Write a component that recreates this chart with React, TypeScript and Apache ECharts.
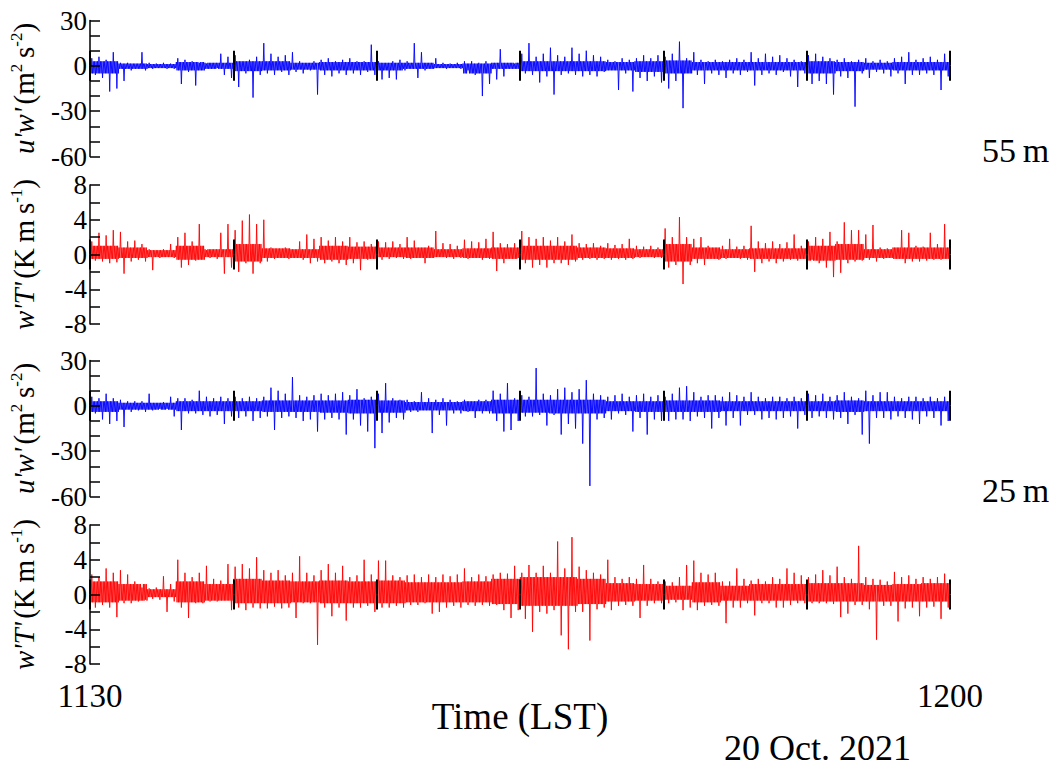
import React, { useEffect, useRef } from "react";
import * as echarts from "echarts";

// ---- data ----
// time axis: 11:30 → 12:00 (minutes from 11:30)
const TIME_LABEL_START = "1130";
const TIME_LABEL_END = "1200";
const TIME_SPAN_MIN = 30;
const TIME_STEP = 5;
const BIN_MIN = 0.25; // spike arrays: max / min per 15 s bin
const DATE_LABEL = "20 Oct. 2021";
const HEIGHT_LABELS = ["55\u2009m", "25\u2009m"];

// u'w' at 55 m — bin maxima / minima
const uw55Hi = [5, 6, 4, 9, 2, 2, 1.5, 9, 2, 1.5, 2, 1.5, 5, 4, 3, 2, 1.5, 2, 8, 6, 7, 3, 4, 6, 15, 8, 6, 7, 9, 3, 2, 3, 4, 5, 3, 4, 5, 3, 3, 14, 3, 2, 3, 4, 3, 15, 9, 2, 5, 2, 1.5, 2, 3, 3, 2, 3, 2, 11, 2, 1.5, 8, 15, 6, 8, 12, 7, 6, 12, 8, 10, 7, 6, 4, 3, 5, 4, 5, 7, 5, 7, 6, 8, 16, 5, 9, 4, 3, 4, 3, 4, 5, 4, 9, 5, 8, 6, 7, 5, 4, 3, 7, 8, 6, 5, 4, 5, 3, 4, 5, 3, 4, 3, 5, 6, 9, 4, 5, 6, 4, 8];
const uw55Lo = [-6, -8, -17, -15, -10, -3, -2, -3, -2, -1.5, -2, -2, -12, -4, -13, -3, -2, -1.5, -6, -8, -14, -5, -21, -6, -5, -6, -4, -6, -4, -5, -3, -19, -6, -7, -5, -6, -5, -6, -4, -6, -9, -8, -9, -2, -2, -8, -3, -2, -1.5, -2, -1.5, -2, -3, -6, -20, -12, -9, -7, -2, -2, -5, -6, -11, -7, -19, -6, -5, -6, -7, -6, -7, -4, -3, -16, -5, -17, -8, -10, -7, -11, -15, -10, -28, -5, -6, -12, -5, -6, -8, -5, -6, -4, -13, -6, -5, -6, -4, -7, -14, -5, -12, -10, -12, -19, -7, -8, -27, -5, -8, -4, -5, -7, -5, -12, -6, -6, -5, -6, -16, -7];
// u'w' at 55 m — dense core band, per minute
const uw55BandHi = [3, 1.5, 1.2, 2.5, 2, 3, 3, 2, 2.5, 2.5, 2, 2, 1.2, 1.5, 2, 3, 3, 3, 2.5, 3, 3.5, 2.5, 2.5, 2.5, 2.5, 3, 2.5, 2, 2.5, 2.5];
const uw55BandLo = [-5, -2, -1.5, -3, -2, -3.5, -3, -2.5, -3, -3, -3, -2, -1.5, -5, -2, -3.5, -3.5, -3.5, -3, -4, -5, -3, -3, -3, -3, -5, -3.5, -2.5, -3, -3];

// w'T' at 55 m
const wT55Hi = [1.5, 2.5, 2.2, 2.8, 2.6, 1.5, 1.6, 1.2, 0.6, 0.5, 0.6, 1.2, 2.0, 2.5, 1.5, 3.5, 0.5, 0.6, 2.5, 3.5, 2.8, 3.9, 4.6, 3.5, 4.0, 0.8, 0.7, 0.8, 0.6, 1.5, 2.3, 1.8, 2.0, 1.6, 2.0, 1.5, 2.0, 1.4, 1.5, 1.2, 1.5, 1.4, 1.5, 1.2, 2.0, 1.6, 0.8, 1.0, 2.7, 1.3, 1.2, 1.0, 1.7, 1.5, 1.4, 1.8, 2.6, 1.3, 1.2, 1.3, 2.7, 2.0, 1.8, 2.0, 1.6, 2.0, 1.5, 2.3, 1.3, 1.2, 1.3, 1.0, 1.3, 1.1, 1.2, 1.8, 1.0, 0.9, 1.0, 0.8, 3.0, 2.0, 4.3, 2.0, 1.8, 2.0, 1.0, 0.8, 1.0, 1.8, 0.9, 1.0, 3.3, 1.5, 1.3, 1.5, 1.2, 1.4, 2.3, 1.0, 1.5, 2.0, 1.8, 2.6, 1.5, 3.7, 2.8, 2.8, 2.3, 3.4, 0.8, 0.7, 0.8, 2.8, 2.5, 1.0, 0.9, 2.5, 1.2, 3.5];
const wT55Lo = [-0.7, -0.8, -1.0, -0.9, -2.2, -0.8, -0.6, -0.8, -1.8, -0.4, -0.3, -0.4, -1.5, -1.2, -0.7, -0.6, -0.4, -0.5, -2.2, -1.5, -2.0, -1.0, -2.2, -1.0, -0.8, -0.5, -0.4, -0.5, -0.4, -0.6, -1.0, -0.8, -1.0, -0.8, -1.0, -1.2, -1.0, -1.8, -0.6, -0.5, -0.6, -0.5, -0.4, -0.5, -0.5, -0.4, -1.0, -0.4, -0.3, -0.4, -0.5, -0.4, -0.5, -0.4, -0.6, -0.5, -1.9, -1.0, -0.5, -0.4, -1.0, -1.5, -1.2, -1.5, -1.0, -1.0, -1.2, -0.8, -0.6, -0.5, -0.6, -0.5, -0.6, -0.5, -0.6, -0.5, -0.4, -0.3, -0.4, -0.4, -1.5, -1.2, -3.4, -1.2, -1.0, -1.2, -0.5, -0.6, -0.5, -0.4, -0.5, -0.6, -2.0, -1.0, -0.8, -1.0, -0.8, -0.6, -0.7, -0.5, -0.6, -1.0, -1.5, -2.6, -2.1, -1.0, -0.8, -0.7, -0.6, -0.8, -0.5, -0.4, -0.5, -1.0, -0.8, -0.8, -0.7, -0.6, -0.6, -0.5];
const wT55BandHi = [1.0, 0.8, 0.5, 1.0, 0.6, 1.2, 0.7, 0.6, 1.0, 0.9, 0.8, 0.8, 0.6, 0.7, 0.8, 1.0, 1.0, 0.8, 0.7, 0.6, 1.2, 0.8, 0.6, 0.7, 0.7, 1.0, 1.2, 0.6, 0.8, 0.8];
const wT55BandLo = [-0.5, -0.4, -0.3, -0.6, -0.3, -0.8, -0.4, -0.4, -0.6, -0.5, -0.3, -0.4, -0.3, -0.4, -0.5, -0.6, -0.6, -0.4, -0.4, -0.3, -0.8, -0.5, -0.4, -0.5, -0.5, -0.7, -0.6, -0.4, -0.5, -0.5];

// u'w' at 25 m
const uw25Hi = [6, 5, 8, 5, 4, 3, 3, 3, 8, 2, 2.5, 6, 5, 5, 4, 10, 6, 5, 6, 5, 6, 5, 6, 5, 6, 12, 10, 8, 19, 7, 6, 7, 8, 7, 8, 9, 7, 11, 5, 6, 8, 15, 5, 4, 4, 3, 9, 5, 4, 5, 4, 3, 4, 3, 4, 4, 10, 8, 15, 5, 7, 6, 25, 8, 7, 11, 12, 9, 11, 17, 8, 7, 6, 7, 8, 6, 7, 8, 6, 7, 6, 8, 12, 13, 9, 6, 7, 7, 6, 9, 7, 6, 9, 6, 5, 6, 6, 5, 6, 5, 8, 7, 8, 6, 7, 9, 6, 5, 10, 7, 9, 9, 6, 5, 6, 6, 5, 6, 5, 6];
const uw25Lo = [-5, -9, -12, -10, -14, -4, -3, -4, -3, -2, -2, -7, -16, -5, -5, -6, -7, -6, -12, -7, -8, -7, -10, -8, -7, -16, -8, -7, -8, -10, -9, -17, -9, -8, -9, -19, -9, -13, -17, -28, -18, -11, -8, -9, -4, -4, -3, -18, -6, -13, -5, -5, -4, -8, -5, -5, -10, -17, -16, -10, -7, -7, -6, -13, -6, -19, -12, -15, -25, -53, -9, -8, -9, -5, -6, -17, -8, -19, -9, -10, -10, -9, -9, -10, -7, -8, -15, -8, -13, -8, -13, -6, -6, -9, -8, -9, -8, -7, -15, -6, -8, -7, -8, -9, -8, -12, -6, -19, -25, -8, -8, -9, -7, -8, -9, -12, -7, -8, -13, -10];
const uw25BandHi = [3, 2, 2, 3, 3, 3, 3.5, 3.5, 3.5, 4, 3.5, 2.5, 2.5, 3, 4, 4, 4, 4, 3, 3, 3.5, 3.5, 3, 3, 3, 3, 3.5, 3, 3, 3];
const uw25BandLo = [-4, -2.5, -2.5, -3.5, -3.5, -3.5, -4, -4, -4.5, -5, -4.5, -3, -3, -3.5, -5, -4.5, -5, -5, -3.5, -4, -4, -4, -3.5, -3.5, -3.5, -3.5, -4, -3.5, -3.5, -3.5];

// w'T' at 25 m
const wT25Hi = [2.3, 2.0, 3.0, 2.5, 2.8, 2.3, 1.5, 0.8, 0.7, 0.8, 2.1, 1.2, 4.0, 2.5, 2.0, 2.5, 3.3, 1.8, 1.6, 3.5, 3.2, 3.5, 3.0, 4.3, 2.8, 2.5, 2.8, 2.2, 2.5, 4.4, 2.5, 2.2, 2.8, 3.5, 2.5, 3.3, 2.0, 2.2, 4.0, 2.3, 3.9, 3.9, 2.2, 2.0, 2.2, 2.3, 2.0, 2.3, 2.0, 2.3, 2.1, 2.3, 3.0, 2.0, 2.3, 2.1, 2.3, 2.5, 2.4, 3.3, 2.5, 3.4, 2.5, 3.3, 2.5, 6.1, 3.0, 6.6, 3.2, 2.8, 2.5, 2.3, 4.0, 2.0, 1.8, 2.0, 1.8, 3.4, 1.8, 1.5, 1.5, 1.4, 2.0, 3.4, 3.9, 2.5, 2.3, 2.5, 1.5, 1.5, 3.0, 1.8, 1.6, 1.8, 1.5, 2.0, 1.8, 3.0, 2.5, 2.2, 2.0, 2.3, 2.8, 2.2, 3.2, 2.0, 1.8, 5.6, 2.0, 1.8, 1.7, 1.5, 2.6, 2.0, 2.2, 1.8, 2.0, 1.8, 2.0, 2.4];
const wT25Lo = [-1.5, -1.2, -1.5, -2.6, -1.0, -1.0, -0.8, -0.6, -0.5, -0.6, -2.0, -0.8, -1.5, -2.7, -1.0, -1.0, -0.8, -0.8, -0.7, -1.8, -1.5, -1.8, -1.5, -1.6, -1.6, -1.4, -1.6, -1.5, -2.7, -1.0, -1.0, -5.8, -1.5, -2.5, -1.5, -3.0, -1.5, -1.5, -1.3, -2.0, -1.5, -1.5, -1.3, -1.5, -1.2, -1.2, -1.0, -2.2, -2.0, -1.5, -1.3, -1.5, -1.2, -1.3, -1.2, -1.3, -1.2, -1.8, -2.7, -1.8, -2.8, -4.3, -2.0, -2.2, -1.8, -4.7, -6.3, -2.0, -2.0, -5.3, -1.7, -1.5, -1.8, -1.3, -1.2, -1.3, -2.7, -1.3, -1.0, -1.0, -1.0, -0.9, -1.8, -1.5, -1.8, -1.3, -1.2, -1.3, -3.3, -1.5, -1.5, -1.0, -2.4, -1.0, -1.0, -1.5, -1.5, -1.2, -1.0, -1.0, -1.0, -1.0, -1.0, -1.1, -2.6, -2.2, -1.2, -1.2, -1.7, -5.2, -1.3, -1.3, -3.1, -1.6, -1.5, -2.5, -1.5, -1.4, -2.8, -1.5];
const wT25BandHi = [1.5, 1.2, 0.6, 1.5, 1.2, 1.8, 1.6, 1.5, 1.6, 1.5, 1.6, 1.4, 1.4, 1.5, 1.8, 2.0, 2.0, 1.8, 1.3, 1.2, 1.0, 1.4, 1.0, 1.2, 1.2, 1.3, 1.3, 1.1, 1.2, 1.3];
const wT25BandLo = [-0.9, -0.7, -0.3, -0.9, -0.7, -1.0, -1.0, -0.9, -1.0, -1.0, -1.0, -0.9, -0.9, -0.9, -1.1, -1.3, -1.3, -1.1, -0.8, -0.7, -0.6, -0.9, -0.7, -0.7, -0.7, -0.8, -0.8, -0.8, -0.8, -0.8];

// axis ranges / ticks
const UW_MIN = -60, UW_MAX = 30, UW_STEP = 30;
const WT_MIN = -8, WT_MAX = 8, WT_STEP = 4;

const FONT = "'Liberation Serif', 'Times New Roman', serif";

// One trace per panel, built only from the read values: inside each 15 s bin the line
// swings across the core band (band-top / band-bottom of that minute) and reaches the
// bin maximum once and the bin minimum once.
function traceData(hi: number[], lo: number[], bHi: number[], bLo: number[]): number[][] {
  const out: number[][] = [];
  const perMinute = hi.length / bHi.length;
  for (let i = 0; i < hi.length; i++) {
    const m = Math.floor(i / perMinute);
    const t = i * BIN_MIN;
    const seq = [bHi[m], bLo[m], hi[i], bLo[m], bHi[m], bLo[m], bHi[m], lo[i], bHi[m], bLo[m]];
    seq.forEach((v, k) => out.push([t + (BIN_MIN * (k + 0.5)) / seq.length, v]));
  }
  return out;
}

const makeRich = () => ({
  i: { fontSize: 29, fontStyle: "italic", fontFamily: FONT, color: "#000", lineHeight: 32 },
  n: { fontSize: 29, fontFamily: FONT, color: "#000", lineHeight: 32 },
  s: { fontSize: 17, fontFamily: FONT, color: "#000", lineHeight: 16, verticalAlign: "top" },
});

export default function App() {
  const ref = useRef<HTMLDivElement>(null);

  useEffect(() => {
    if (!ref.current) return;
    const chart = echarts.init(ref.current, null, { renderer: "svg" });

    const grids = [
      { left: 85, right: 106, top: 20.5, height: 136 },
      { left: 85, right: 106, top: 185, height: 139 },
      { left: 85, right: 106, top: 360.5, height: 136 },
      { left: 85, right: 106, top: 525, height: 139 },
    ];

    const panels = [
      { hi: uw55Hi, lo: uw55Lo, bHi: uw55BandHi, bLo: uw55BandLo, color: "#0000ff", kind: "uw" },
      { hi: wT55Hi, lo: wT55Lo, bHi: wT55BandHi, bLo: wT55BandLo, color: "#ff0000", kind: "wt" },
      { hi: uw25Hi, lo: uw25Lo, bHi: uw25BandHi, bLo: uw25BandLo, color: "#0000ff", kind: "uw" },
      { hi: wT25Hi, lo: wT25Lo, bHi: wT25BandHi, bLo: wT25BandLo, color: "#ff0000", kind: "wt" },
    ];

    const xAxis: any[] = [];
    const yAxis: any[] = [];
    const series: any[] = [];

    panels.forEach((p, g) => {
      const isUw = p.kind === "uw";
      yAxis.push({
        gridIndex: g,
        type: "value",
        min: isUw ? UW_MIN : WT_MIN,
        max: isUw ? UW_MAX : WT_MAX,
        interval: isUw ? UW_STEP : WT_STEP,
        z: 5,
        axisLine: { show: true, onZero: false, lineStyle: { color: "#000", width: 1.5 } },
        axisTick: { show: true, inside: true, length: 10, lineStyle: { color: "#000", width: 1.5 } },
        minorTick: { show: true, splitNumber: isUw ? 3 : 2, length: 10, lineStyle: { color: "#000", width: 1.5 } },
        splitLine: { show: false },
        minorSplitLine: { show: false },
        axisLabel: { color: "#000", fontSize: 27, lineHeight: 22, fontFamily: FONT, margin: 3 },
        name: isUw
          ? "{i|u'w'} {n|(m}{s|2}{n|\u2009s}{s|-2}{n|)}"
          : "{i|w'T'} {n|(K\u2009m\u2009s}{s|-1}{n|)}",
        nameLocation: "middle",
        nameRotate: 90,
        nameGap: 50,
        nameTextStyle: { rich: makeRich() },
      });
      // time ticks pointing up from the zero line
      xAxis.push({
        gridIndex: g,
        type: "value",
        position: "bottom",
        min: 0,
        max: TIME_SPAN_MIN,
        interval: TIME_STEP,
        z: 5,
        axisLine: { show: false, onZero: true, onZeroAxisIndex: g },
        axisTick: { show: true, inside: true, length: 15, lineStyle: { color: "#000", width: 2 } },
        axisLabel: { show: false },
        splitLine: { show: false },
      });
      // time ticks pointing down from the zero line
      xAxis.push({
        gridIndex: g,
        type: "value",
        position: "top",
        min: 0,
        max: TIME_SPAN_MIN,
        interval: TIME_STEP,
        z: 5,
        axisLine: { show: false, onZero: true, onZeroAxisIndex: g },
        axisTick: { show: true, inside: true, length: 15, lineStyle: { color: "#000", width: 2 } },
        axisLabel: { show: false },
        splitLine: { show: false },
      });

      series.push({
        type: "line",
        xAxisIndex: g * 2,
        yAxisIndex: g,
        data: traceData(p.hi, p.lo, p.bHi, p.bLo),
        showSymbol: false,
        symbol: "none",
        lineStyle: { color: p.color, width: 0.9 },
        z: 1,
      });
    });

    // bottom time labels + axis title
    xAxis.push({
      gridIndex: 3,
      type: "value",
      position: "bottom",
      min: 0,
      max: TIME_SPAN_MIN,
      interval: TIME_STEP,
      axisLine: { show: false, onZero: false },
      axisTick: { show: false },
      splitLine: { show: false },
      axisLabel: {
        show: true,
        color: "#000",
        fontSize: 33,
        lineHeight: 26,
        fontFamily: FONT,
        margin: 19,
        showMinLabel: true,
        showMaxLabel: true,
        formatter: (v: number) => (v === 0 ? TIME_LABEL_START : v === TIME_SPAN_MIN ? TIME_LABEL_END : ""),
      },
      name: "Time (LST)",
      nameLocation: "middle",
      nameGap: 37,
      nameMoveOverlap: false,
      nameTextStyle: { color: "#000", fontSize: 37, lineHeight: 30, fontFamily: FONT },
    });

    chart.setOption({
      animation: false,
      backgroundColor: "#fff",
      grid: grids,
      xAxis,
      yAxis,
      series,
      graphic: [
        { type: "text", left: 982, top: 133, style: { text: HEIGHT_LABELS[0], font: `34px ${FONT}`, fill: "#000" } },
        { type: "text", left: 982, top: 473, style: { text: HEIGHT_LABELS[1], font: `34px ${FONT}`, fill: "#000" } },
        { type: "text", left: 724, top: 730, style: { text: DATE_LABEL, font: `36px ${FONT}`, fill: "#000" } },
      ],
    });

    return () => chart.dispose();
  }, []);

  return (
    <div
      ref={ref}
      style={{ position: "fixed", left: 0, top: 0, width: 1056, height: 767, background: "#fff" }}
    />
  );
}
